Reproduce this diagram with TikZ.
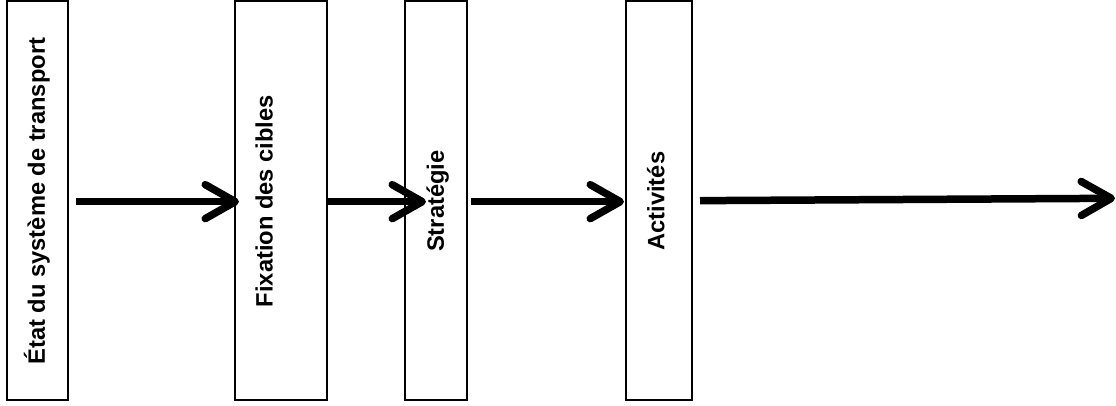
\documentclass[tikz,border=0pt]{standalone}
\usepackage{fontspec}
\setmainfont{Liberation Sans}
\usetikzlibrary{arrows.meta,calc}
\begin{document}
\begin{tikzpicture}[x=1pt,y=-1pt,
  stagebox/.style={draw=black,line width=2pt,fill=white,minimum height=399.3pt,inner sep=0pt},
  stagetext/.style={rotate=90,anchor=base,inner sep=0pt,font=\fontsize{23.7}{28}\selectfont\bfseries},
  flow/.style={line width=7.5pt,line cap=butt,
    -{Straight Barb[length=30pt,width=34pt,line width=7.5pt,round]}}]
\useasboundingbox (0,0) rectangle (1116,406);
% stage boxes
\node[stagebox,minimum width=60.2pt] (b1) at (37.4,200.65) {};
\node[stagebox,minimum width=91.7pt] (b2) at (280.85,200.65) {};
\node[stagebox,minimum width=61.4pt] (b3) at (436.0,200.65) {};
\node[stagebox,minimum width=65.4pt] (b4) at (659.0,200.65) {};
% stage labels, written bottom to top
\node[stagetext] (t1) at ($(b1.west)+(38.5,0.5)$) {État du système de transport};
\node[stagetext] (t2) at ($(b2.west)+(38.5,0.5)$) {Fixation des cibles};
\node[stagetext] (t3) at ($(b3.west)+(39.5,0.5)$) {Stratégie};
\node[stagetext] (t4) at ($(b4.west)+(39,0.5)$) {Activités};
% flow arrows
\coordinate (s1) at ($(b1.east)+(7.5,1)$);
\coordinate (e1) at ($(b2.west)+(5,1)$);
\coordinate (s2) at ($(b2.east)+(0,1)$);
\coordinate (e2) at ($(b3.west)+(21.7,1)$);
\coordinate (s3) at ($(b3.east)+(3.3,1)$);
\coordinate (e3) at ($(b4.west)+(-1.3,1)$);
\coordinate (s4) at ($(b4.east)+(7.3,0)$);
\coordinate (e4) at (1115,198.3);
\draw[flow] (s1) -- (e1);
\draw[flow] (s2) -- (e2);
\draw[flow] (s3) -- (e3);
\draw[flow] (s4) -- (e4);
\end{tikzpicture}
\end{document}
